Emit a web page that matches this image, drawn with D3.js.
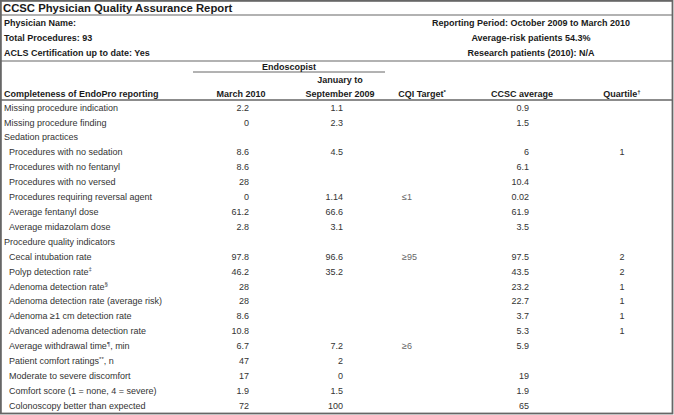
<!DOCTYPE html>
<html>
<head>
<meta charset="utf-8">
<script src="https://cdn.jsdelivr.net/npm/d3@7/dist/d3.min.js"></script>
<style>
  html, body { margin: 0; padding: 0; background: #fff; }
  svg { display: block; }
  text { font-family: "Liberation Sans", Arial, Helvetica, sans-serif; }
</style>
</head>
<body>
<svg id="chart" width="674" height="415"></svg>
<script>
// ---- Data ----
const title = "CCSC Physician Quality Assurance Report";
const infoLeft = ["Physician Name:", "Total Procedures: 93", "ACLS Certification up to date: Yes"];
const infoRight = ["Reporting Period: October 2009 to March 2010", "Average-risk patients 54.3%", "Research patients (2010): N/A"];
const groupHeader = "Endoscopist";
const columnHeaders = ["Completeness of EndoPro reporting", "March 2010", "January to|September 2009", "CQI Target{*}", "CCSC average", "Quartile{†}"];

const rowLabels = [
  "Missing procedure indication",
  "Missing procedure finding",
  "Sedation practices",
  "Procedures with no sedation",
  "Procedures with no fentanyl",
  "Procedures with no versed",
  "Procedures requiring reversal agent",
  "Average fentanyl dose",
  "Average midazolam dose",
  "Procedure quality indicators",
  "Cecal intubation rate",
  "Polyp detection rate{‡}",
  "Adenoma detection rate{§}",
  "Adenoma detection rate (average risk)",
  "Adenoma ≥1 cm detection rate",
  "Advanced adenoma detection rate",
  "Average withdrawal time{¶}, min",
  "Patient comfort ratings{**}, n",
  "Moderate to severe discomfort",
  "Comfort score (1 = none, 4 = severe)",
  "Colonoscopy better than expected"
];
const rowIndent = [0,0,0,1,1,1,1,1,1,0,1,1,1,1,1,1,1,1,1,1,1];
const march2010 = ["2.2","0",null,"8.6","8.6","28","0","61.2","2.8",null,"97.8","46.2","28","28","8.6","10.8","6.7","47","17","1.9","72"];
const janSep2009 = ["1.1","2.3",null,"4.5",null,null,"1.14","66.6","3.1",null,"96.6","35.2",null,null,null,null,"7.2","2","0","1.5","100"];
const cqiTarget = [null,null,null,null,null,null,"≤1",null,null,null,"≥95",null,null,null,null,null,"≥6",null,null,null,null];
const ccscAverage = ["0.9","1.5",null,"6","6.1","10.4","0.02","61.9","3.5",null,"97.5","43.5","23.2","22.7","3.7","5.3","5.9",null,"19","1.9","65"];
const quartile = [null,null,null,"1",null,null,null,null,null,null,"2","2","1","1","1","1",null,null,null,null,null];

// ---- Layout ----
const svg = d3.select("#chart");
const ink = "#1a1a1a", dataInk = "#333", lineCol = "#666";
const fs = 9;

// rows via band scale
const y = d3.scaleBand().domain(d3.range(rowLabels.length)).range([100, 413]);

// column anchor scale
const colKeys = ["march", "jan", "cqi", "avg", "quart"];
const colX = d3.scaleOrdinal().domain(colKeys).range([249, 343, 402, 529, 622]);
const colAnchor = d3.scaleOrdinal().domain(colKeys).range(["end", "end", "start", "end", "middle"]);
const headX = d3.scaleOrdinal().domain(colKeys).range([241, 340, 422, 522, 622]);

function addRich(sel, str) {
  const parts = str.split(/(\{[^}]*\})/).filter(s => s.length);
  let shifted = false;
  parts.forEach(p => {
    if (p.startsWith("{")) {
      sel.append("tspan").attr("font-size", 6).attr("dy", -3.5).text(p.slice(1, -1));
      shifted = true;
    } else {
      const t = sel.append("tspan").text(p);
      if (shifted) { t.attr("dy", 3.5); shifted = false; }
    }
  });
}

// outer border
svg.append("rect").attr("x", 0.9).attr("y", 0.9).attr("width", 671.6).attr("height", 412.6)
  .attr("fill", "none").attr("stroke", lineCol).attr("stroke-width", 1.8);

// horizontal rules
[[0, 673, 15, 1.2], [0, 673, 61, 1.2], [193, 385, 72, 1], [0, 673, 100, 1.5]].forEach(([x1, x2, yy, w]) => {
  svg.append("line").attr("x1", x1).attr("x2", x2).attr("y1", yy).attr("y2", yy)
    .attr("stroke", lineCol).attr("stroke-width", w);
});

// title
svg.append("text").attr("x", 3).attr("y", 11.5).attr("font-size", 11.3).attr("font-weight", "bold")
  .attr("fill", ink).text(title);

// info
const infoY = [26, 41, 56];
svg.selectAll("text.il").data(infoLeft).join("text").attr("class", "il")
  .attr("x", 4).attr("y", (d, i) => infoY[i]).attr("font-size", fs).attr("font-weight", "bold")
  .attr("fill", ink).text(d => d);
svg.selectAll("text.ir").data(infoRight).join("text").attr("class", "ir")
  .attr("x", 531).attr("y", (d, i) => infoY[i]).attr("text-anchor", "middle")
  .attr("font-size", fs).attr("font-weight", "bold").attr("fill", ink).text(d => d);

// group header
svg.append("text").attr("x", 289).attr("y", 69.5).attr("text-anchor", "middle")
  .attr("font-size", fs).attr("font-weight", "bold").attr("fill", ink).text(groupHeader);

// column headers
const hBase = 97;
const hdr = svg.append("g").attr("font-size", fs).attr("font-weight", "bold").attr("fill", ink);
hdr.append("text").attr("x", 4).attr("y", hBase).text(columnHeaders[0]);
colKeys.forEach((k, i) => {
  const lines = columnHeaders[i + 1].split("|");
  lines.forEach((ln, j) => {
    const t = hdr.append("text").attr("x", headX(k)).attr("y", hBase - (lines.length - 1 - j) * 14)
      .attr("text-anchor", "middle");
    addRich(t, ln);
  });
});

// body rows
const body = svg.append("g").attr("font-size", fs).attr("fill", dataInk);
rowLabels.forEach((lab, i) => {
  const cy = y(i) + y.bandwidth() / 2 + 3.2;
  const t = body.append("text").attr("x", rowIndent[i] ? 9 : 4).attr("y", cy);
  addRich(t, lab);
});
const cols = { march: march2010, jan: janSep2009, cqi: cqiTarget, avg: ccscAverage, quart: quartile };
colKeys.forEach(k => {
  body.selectAll("text.c-" + k).data(cols[k].map((v, i) => ({ v, i })).filter(d => d.v !== null))
    .join("text").attr("class", "c-" + k)
    .attr("x", colX(k)).attr("y", d => y(d.i) + y.bandwidth() / 2 + 3.2)
    .attr("text-anchor", colAnchor(k))
    .attr("fill", k === "cqi" ? "#666" : dataInk)
    .text(d => d.v);
});
</script>
</body>
</html>
